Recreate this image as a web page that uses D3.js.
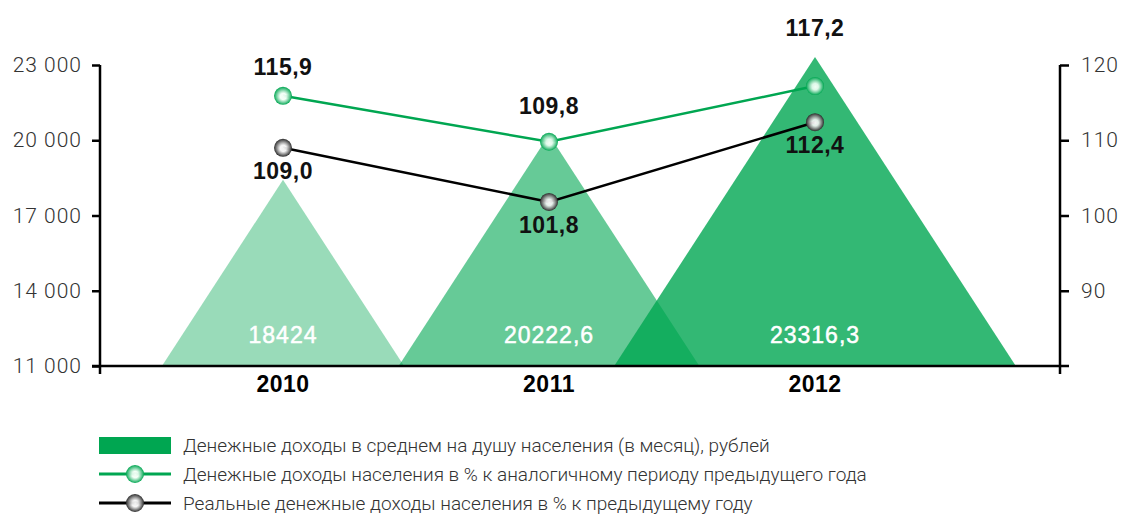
<!DOCTYPE html>
<html>
<head>
<meta charset="utf-8">
<script src="https://cdn.jsdelivr.net/npm/d3@7"></script>
<style>
  body { margin: 0; background: #fff; }
  svg { display: block; }
  .tick text { font-family: Roboto, "Liberation Sans", sans-serif; font-weight: 300; font-size: 21px; letter-spacing: 1px; fill: #333; }
</style>
</head>
<body>
<svg id="chart"></svg>
<script>
const years = ["2010", "2011", "2012"];
const incomePerCapita = [18424, 20222.6, 23316.3];
const nominalGrowth = [115.9, 109.8, 117.2];
const realGrowth = [109.0, 101.8, 112.4];
const leftTicks = [11000, 14000, 17000, 20000, 23000];
const rightTicks = [90, 100, 110, 120];
const legendLabels = [
  "Денежные доходы в среднем на душу населения (в месяц), рублей",
  "Денежные доходы населения в % к аналогичному периоду предыдущего года",
  "Реальные денежные доходы населения в % к предыдущему году"
];

const width = 1126;
const height = 514;
const plotLeft = 100;
const plotRight = 1060;
const plotTop = 65;
const plotBottom = 366;
const green = "#00a651";
const triOpacity = [0.4, 0.6, 0.8];

const svg = d3.select("#chart").attr("width", width).attr("height", height);

const ru = d3.formatLocale({ decimal: ",", thousands: " ", grouping: [3], currency: ["", ""] });
const fmt1 = ru.format(".1f");
const fmtPlain = (d) => String(d).replace(".", ",");

const xScale = d3.scalePoint().domain(years).range([283, 815]);
const yLeft = d3.scaleLinear().domain([11000, 23000]).range([plotBottom, plotTop]);
const yRight = d3.scaleLinear().domain([80, 120]).range([plotBottom, plotTop]);

// gradients for the ball markers
const defs = svg.append("defs");
const addGrad = (id, light, dark) => {
  const g = defs.append("radialGradient").attr("id", id)
    .attr("cx", "50%").attr("cy", "50%").attr("r", "50%")
    .attr("fx", "52%").attr("fy", "55%");
  g.append("stop").attr("offset", "0%").attr("stop-color", light);
  g.append("stop").attr("offset", "35%").attr("stop-color", light).attr("stop-opacity", 0.9);
  g.append("stop").attr("offset", "100%").attr("stop-color", dark);
};
addGrad("ballGreen", "#f2fff6", "#00a651");
addGrad("ballGray", "#f4f4f4", "#2a2a2a");

// triangles
const halfRatio = 0.65;
const tri = (d, i) => {
  const cx = xScale(years[i]);
  const ty = yLeft(d);
  const hw = (plotBottom - ty) * halfRatio;
  return `M${cx - hw},${plotBottom}L${cx},${ty}L${cx + hw},${plotBottom}Z`;
};
svg.append("g")
  .selectAll("path")
  .data(incomePerCapita)
  .join("path")
  .attr("d", tri)
  .attr("fill", green)
  .attr("fill-opacity", (d, i) => triOpacity[i]);

svg.append("g")
  .selectAll("text")
  .data(incomePerCapita)
  .join("text")
  .attr("x", (d, i) => xScale(years[i]))
  .attr("y", plotBottom - 23)
  .attr("text-anchor", "middle")
  .attr("fill", "#fff")
  .attr("stroke", "#fff")
  .attr("stroke-width", 0.5)
  .style("font-family", "'Liberation Sans', Arial, sans-serif")
  .style("font-size", "23px")
  .style("letter-spacing", "1px")
  .text(fmtPlain);

// axes
const leftAxis = d3.axisLeft(yLeft).tickValues(leftTicks).tickSize(8).tickPadding(10)
  .tickFormat(ru.format(","));
const gl = svg.append("g").attr("transform", `translate(${plotLeft},0)`).call(leftAxis);

const rightAxis = d3.axisRight(yRight).tickValues(rightTicks).tickSize(9).tickPadding(12);
const gr = svg.append("g").attr("transform", `translate(${plotRight},0)`).call(rightAxis);

[gl, gr].forEach((g) => {
  g.select(".domain").attr("d", `M0,${plotTop}V${plotBottom + 8}`).attr("stroke", "#000").attr("stroke-width", 2.5);
  g.selectAll(".tick line").attr("stroke", "#000").attr("stroke-width", 2.5);
});

// baseline
svg.append("line")
  .attr("x1", plotLeft - 8).attr("x2", plotRight + 9)
  .attr("y1", plotBottom).attr("y2", plotBottom)
  .attr("stroke", "#000").attr("stroke-width", 2.5);

// year labels
svg.append("g")
  .selectAll("text")
  .data(years)
  .join("text")
  .attr("x", (d) => xScale(d))
  .attr("y", plotBottom + 26)
  .attr("text-anchor", "middle")
  .style("font-family", "'Liberation Sans', Arial, sans-serif")
  .style("font-weight", "bold")
  .style("font-size", "23px")
  .style("letter-spacing", "0.5px")
  .text((d) => d);

// lines
const lineGen = d3.line().x((d, i) => xScale(years[i])).y((d) => yRight(d));
svg.append("path").datum(nominalGrowth).attr("d", lineGen)
  .attr("fill", "none").attr("stroke", green).attr("stroke-width", 2.5);
svg.append("path").datum(realGrowth).attr("d", lineGen)
  .attr("fill", "none").attr("stroke", "#000").attr("stroke-width", 2.5);

const drawBalls = (data, grad) => {
  svg.append("g")
    .selectAll("circle")
    .data(data)
    .join("circle")
    .attr("cx", (d, i) => xScale(years[i]))
    .attr("cy", (d) => yRight(d))
    .attr("r", 9)
    .attr("fill", `url(#${grad})`);
};
drawBalls(nominalGrowth, "ballGreen");
drawBalls(realGrowth, "ballGray");

// value labels: green above (clear of the triangle peak), black below
const labelStyle = (sel) => sel
  .attr("text-anchor", "middle")
  .attr("fill", "#111")
  .style("font-family", "'Liberation Sans', Arial, sans-serif")
  .style("font-weight", "bold")
  .style("font-size", "23px")
  .style("letter-spacing", "0.5px");

svg.append("g")
  .selectAll("text")
  .data(nominalGrowth)
  .join("text")
  .attr("x", (d, i) => xScale(years[i]))
  .attr("y", (d, i) => Math.min(yRight(d), yLeft(incomePerCapita[i])) - 21)
  .call(labelStyle)
  .text(fmt1);

svg.append("g")
  .selectAll("text")
  .data(realGrowth)
  .join("text")
  .attr("x", (d, i) => xScale(years[i]))
  .attr("y", (d) => yRight(d) + 31)
  .call(labelStyle)
  .text(fmt1);

// legend
const lg = svg.append("g").attr("transform", "translate(99,445)");
lg.append("rect").attr("x", 0).attr("y", -8).attr("width", 72).attr("height", 17).attr("fill", green);
[[green, "ballGreen"], ["#000", "ballGray"]].forEach(([c, grad], i) => {
  const y = 29 * (i + 1);
  lg.append("line").attr("x1", 0).attr("x2", 72).attr("y1", y).attr("y2", y)
    .attr("stroke", c).attr("stroke-width", 3);
  lg.append("circle").attr("cx", 36).attr("cy", y).attr("r", 9).attr("fill", `url(#${grad})`);
});
lg.selectAll("text.leg")
  .data(legendLabels)
  .join("text")
  .attr("class", "leg")
  .attr("x", 84)
  .attr("y", (d, i) => 29 * i + 7)
  .attr("fill", "#333")
  .style("font-family", "Roboto, 'Liberation Sans', sans-serif")
  .style("font-weight", 300)
  .style("font-size", "19px")
  .text((d) => d);
</script>
</body>
</html>
